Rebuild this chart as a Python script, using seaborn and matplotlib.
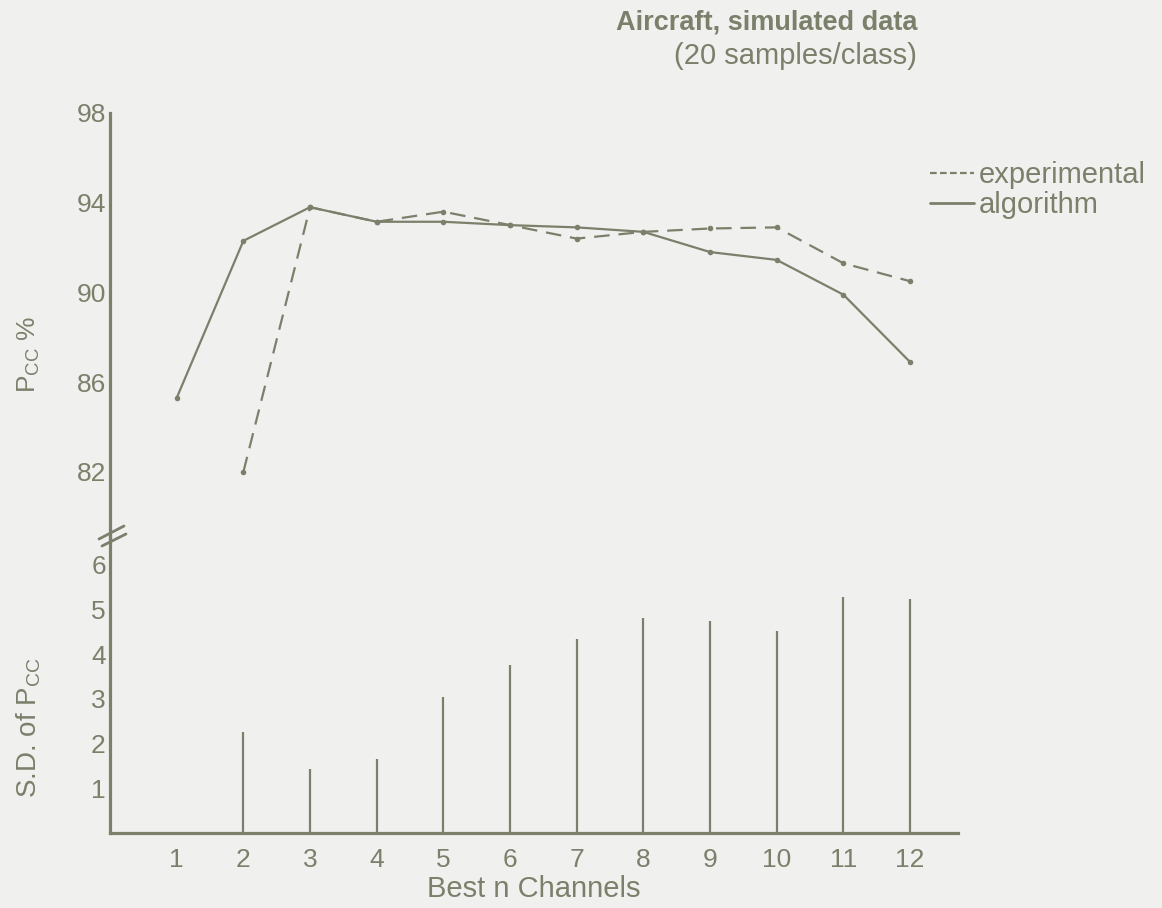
import matplotlib.pyplot as plt
import seaborn as sns
from matplotlib.lines import Line2D

ink = "#7b806b"
paper = "#f0f0ee"

sns.set_theme(style="white")
plt.rcParams["font.family"] = ["Liberation Sans", "DejaVu Sans"]

n_channels = list(range(1, 13))
pcc_algorithm = [85.3, 92.3, 93.8, 93.15, 93.15, 93.0, 92.9, 92.7, 91.8, 91.45, 89.9, 86.9]
exp_channels = list(range(2, 13))
pcc_experimental = [82.0, 93.8, 93.15, 93.6, 93.0, 92.4, 92.7, 92.85, 92.9, 91.3, 90.5]
sd_channels = list(range(2, 13))
sd_pcc = [2.26, 1.43, 1.66, 3.04, 3.76, 4.34, 4.81, 4.74, 4.52, 5.28, 5.24]

pcc_ticks = [82, 86, 90, 94, 98]
sd_ticks = [1, 2, 3, 4, 5, 6]

fig = plt.figure(figsize=(11.62, 9.08), dpi=100, facecolor=paper)
ax_top = fig.add_axes([0.0947, 0.4086, 0.7298, 0.467])
ax_bot = fig.add_axes([0.0947, 0.0826, 0.7298, 0.326])

for ax in (ax_top, ax_bot):
    ax.set_facecolor("none")
    for s in ("top", "right"):
        ax.spines[s].set_visible(False)
    for s in ("left", "bottom"):
        ax.spines[s].set_color(ink)
        ax.spines[s].set_linewidth(2.3)
    ax.set_xlim(0, 12.72)
    ax.tick_params(axis="y", direction="in", length=9, width=2, color=ink,
                   labelcolor=ink, labelsize=19, pad=3)
ax_top.spines["bottom"].set_visible(False)

sns.lineplot(x=exp_channels, y=pcc_experimental, ax=ax_top, color=ink, lw=1.6,
             linestyle=(0, (7, 4)), marker="o", markersize=4, markeredgewidth=0)
sns.lineplot(x=n_channels, y=pcc_algorithm, ax=ax_top, color=ink, lw=1.6,
             marker="o", markersize=4, markeredgewidth=0)
ax_top.set_ylim(79.1, 98)
ax_top.set_yticks(pcc_ticks)
ax_top.set_xticks([])
ax_top.set_xlabel("")
ax_top.set_ylabel("")

ax_bot.vlines(sd_channels, 0, sd_pcc, color=ink, lw=1.6)
ax_bot.set_ylim(0, 6.62)
ax_bot.set_yticks(sd_ticks)
ax_bot.set_xticks(n_channels)
ax_bot.tick_params(axis="x", length=0, labelcolor=ink, labelsize=19, pad=11)
ax_bot.set_xlabel("Best n Channels", fontsize=21, color=ink, labelpad=2)

# axis break marks
for x0, y0, x1, y1 in [(99, 539, 124, 526), (102, 546, 126, 534)]:
    fig.add_artist(Line2D([x0 / 1162, x1 / 1162], [1 - y0 / 908, 1 - y1 / 908],
                          transform=fig.transFigure, color=ink, lw=2))

fig.text(29 / 1162, 1 - 354 / 908, r"P$_{\mathregular{CC}}$ %", rotation=90,
         ha="center", va="center", fontsize=19, color=ink)
fig.text(29 / 1162, 1 - 728 / 908, r"S.D. of P$_{\mathregular{CC}}$", rotation=90,
         ha="center", va="center", fontsize=20, color=ink)

fig.text(917 / 1162, 1 - 22 / 908, "Aircraft, simulated data", ha="right",
         va="center", fontsize=19.5, fontweight="bold", color=ink)
fig.text(917 / 1162, 1 - 56 / 908, "(20 samples/class)", ha="right",
         va="center", fontsize=21, color=ink)

handles = [Line2D([], [], color=ink, lw=1.6, linestyle=(0, (3, 1.5))),
           Line2D([], [], color=ink, lw=2)]
fig.legend(handles, ["experimental", "algorithm"], loc="upper left",
           bbox_to_anchor=(930 / 1162, 1 - 161 / 908), frameon=False, fontsize=21,
           handlelength=1.5, handletextpad=0.17, labelspacing=0.08,
           borderaxespad=0, borderpad=0, labelcolor=ink)

fig.savefig("out.png", dpi=100, facecolor=paper)
